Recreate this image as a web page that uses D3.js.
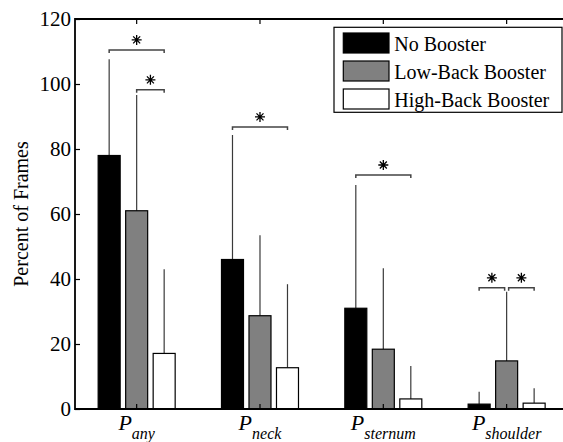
<!DOCTYPE html>
<html>
<head>
<meta charset="utf-8">
<script src="https://cdn.jsdelivr.net/npm/d3@7"></script>
<style>
  body { margin: 0; background: #fff; }
  svg { display: block; }
  svg text { font-family: "Liberation Serif", "DejaVu Serif", "Times New Roman", serif; }
</style>
</head>
<body>
<div id="chart"></div>
<script>
// data
const categories = ["any", "neck", "sternum", "shoulder"];
const series = ["No Booster", "Low-Back Booster", "High-Back Booster"];
const noBooster = [78, 46, 31, 1.5];
const lowBack = [61, 28.7, 18.4, 14.8];
const highBack = [17.1, 12.7, 3.1, 1.8];
// upper end of each error bar
const noBoosterErr = [107.6, 84.3, 68.9, 5.3];
const lowBackErr = [96.6, 53.5, 43.3, 36.1];
const highBackErr = [43, 38.4, 13.2, 6.4];
const yTicks = [0, 20, 40, 60, 80, 100, 120];

// significance brackets: category, from series, to series, height
const sigCategory = ["any", "any", "neck", "sternum", "shoulder", "shoulder"];
const sigFrom = [0, 1, 0, 0, 0, 1];
const sigTo = [2, 2, 2, 2, 1, 2];
const sigLevel = [110.5, 98.2, 86.8, 72, 37.3, 37.3];

const fills = ["#000000", "#808080", "#ffffff"];
const values = [noBooster, lowBack, highBack];
const errs = [noBoosterErr, lowBackErr, highBackErr];

const W = 563, H = 442;
const mLeft = 75, mTop = 19, mBottom = 409, mRight = 568.3;
const serif = "Liberation Serif, DejaVu Serif, serif";

const svg = d3.select("#chart").append("svg")
    .attr("width", W)
    .attr("height", H)
    .attr("font-family", serif);

const x = d3.scaleBand()
    .domain(categories)
    .range([mLeft, mRight]);

const xInner = d3.scaleBand()
    .domain(d3.range(series.length))
    .range([-38.5, 38.5])
    .paddingInner(0.2);

const y = d3.scaleLinear()
    .domain([0, 120])
    .range([mBottom, mTop]);

const cx = (c) => x(c) + x.bandwidth() / 2;
const barCenter = (c, s) => cx(c) + xInner(s) + xInner.bandwidth() / 2;

// bars
const rows = [];
categories.forEach((c, i) => {
    series.forEach((s, j) => {
        rows.push({cat: c, s: j, v: values[j][i], e: errs[j][i]});
    });
});

// error bars (upper half only)
svg.append("g").selectAll("line")
    .data(rows)
    .enter()
    .append("line")
        .attr("x1", (d) => barCenter(d.cat, d.s))
        .attr("x2", (d) => barCenter(d.cat, d.s))
        .attr("y1", (d) => y(d.v))
        .attr("y2", (d) => y(d.e))
        .attr("stroke", "#3a3a3a")
        .attr("stroke-width", 1.2);

svg.append("g").selectAll("rect")
    .data(rows)
    .enter()
    .append("rect")
        .attr("x", (d) => cx(d.cat) + xInner(d.s))
        .attr("y", (d) => y(d.v))
        .attr("width", xInner.bandwidth())
        .attr("height", (d) => y(0) - y(d.v))
        .attr("fill", (d) => fills[d.s])
        .attr("stroke", "#000")
        .attr("stroke-width", 1.2);

// significance brackets with stars
const sig = sigCategory.map((c, i) => ({cat: c, a: sigFrom[i], b: sigTo[i], lvl: sigLevel[i]}));
const bracketG = svg.append("g");
sig.forEach((d) => {
    let x1 = barCenter(d.cat, d.a);
    let x2 = barCenter(d.cat, d.b);
    // leave a small gap where two brackets meet at the same height
    sig.forEach((o) => {
        if (o === d || o.cat !== d.cat || o.lvl !== d.lvl) return;
        if (o.a === d.b) x2 -= 2;
        if (o.b === d.a) x1 += 2;
    });
    const yy = y(d.lvl);
    bracketG.append("path")
        .attr("d", `M${x1},${yy + 3}V${yy}H${x2}V${yy + 3}`)
        .attr("fill", "none")
        .attr("stroke", "#444")
        .attr("stroke-width", 1.5);
    const sx = (x1 + x2) / 2, sy = yy - 10, r = 5;
    bracketG.append("path")
        .attr("d", `M${sx - r},${sy}H${sx + r}M${sx},${sy - r}V${sy + r}` +
            `M${sx - r * 0.7},${sy - r * 0.7}L${sx + r * 0.7},${sy + r * 0.7}` +
            `M${sx - r * 0.7},${sy + r * 0.7}L${sx + r * 0.7},${sy - r * 0.7}`)
        .attr("stroke", "#000")
        .attr("stroke-width", 1.3);
});

// axes
const yAxis = svg.append("g")
    .attr("transform", `translate(${mLeft},0)`)
    .call(d3.axisLeft(y).tickValues(yTicks).tickSize(-5).tickPadding(4));
yAxis.attr("font-family", serif).attr("font-size", 21);
yAxis.select(".domain").remove();
yAxis.selectAll("text").attr("fill", "#000");

const yAxisR = svg.append("g")
    .attr("transform", `translate(${mRight},0)`)
    .call(d3.axisRight(y).tickValues(yTicks).tickSize(-5).tickFormat(""));
yAxisR.select(".domain").remove();

const xTop = svg.append("g")
    .attr("transform", `translate(0,${mTop})`)
    .call(d3.axisTop(x).tickSize(-5).tickFormat(""));
xTop.select(".domain").remove();

const xBottom = svg.append("g")
    .attr("transform", `translate(0,${mBottom})`)
    .call(d3.axisBottom(x).tickSize(-5).tickFormat(""));
xBottom.select(".domain").remove();

svg.selectAll(".tick line").attr("stroke", "#000").attr("stroke-width", 1.2);

// box
svg.append("path")
    .attr("d", `M${mLeft},${mTop}H${mRight}V${mBottom}H${mLeft}Z`)
    .attr("fill", "none")
    .attr("stroke", "#000")
    .attr("stroke-width", 1.8);

// category labels P_xxx
const labels = svg.append("g").selectAll("text")
    .data(categories)
    .enter()
    .append("text")
        .attr("x", (c) => cx(c))
        .attr("y", 430)
        .attr("text-anchor", "middle")
        .attr("font-style", "italic");
labels.append("tspan")
    .attr("font-size", "22px")
    .text("P");
labels.append("tspan")
    .attr("font-size", "16px")
    .attr("dy", 9)
    .text((c) => c);

// y label
svg.append("text")
    .attr("transform", `translate(28,${(mTop + mBottom) / 2}) rotate(-90)`)
    .attr("text-anchor", "middle")
    .attr("font-size", "20px")
    .text("Percent of Frames");

// legend
const legend = svg.append("g").attr("transform", "translate(334,27.3)");
legend.append("rect")
    .attr("width", 228)
    .attr("height", 85)
    .attr("fill", "#fff")
    .attr("stroke", "#000")
    .attr("stroke-width", 1.2);
const item = legend.selectAll("g")
    .data(series)
    .enter()
    .append("g")
        .attr("transform", (d, i) => `translate(9.3,${5.7 + i * 28})`);
item.append("rect")
    .attr("width", 45.7)
    .attr("height", 20)
    .attr("fill", (d, i) => fills[i])
    .attr("stroke", "#000")
    .attr("stroke-width", 1.2);
item.append("text")
    .attr("x", 51)
    .attr("y", 17.7)
    .attr("font-size", "20px")
    .text((d) => d);
</script>
</body>
</html>
